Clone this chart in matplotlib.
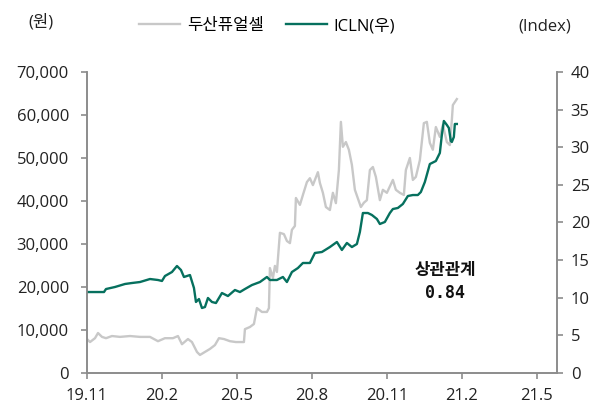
import matplotlib
matplotlib.use("Agg")
import matplotlib.pyplot as plt

plt.rcParams['font.family'] = ['Open Sans', 'Noto Sans CJK KR', 'DejaVu Sans']

# x positions: months since 2019-11
tick_pos = [0, 3, 6, 9, 12, 15, 18]
tick_labels = ['19.11', '20.2', '20.5', '20.8', '20.11', '21.2', '21.5']

doosan_x = [0.00, 0.12, 0.32, 0.44, 0.60, 0.76, 1.00, 1.32, 1.72, 2.12, 2.52, 2.84, 3.12, 3.44, 3.64,
            3.80, 4.04, 4.20, 4.40, 4.52, 4.72, 4.92, 5.12, 5.28, 5.48, 5.72, 5.96, 6.28, 6.32, 6.52,
            6.68, 6.80, 7.00, 7.20, 7.28, 7.32, 7.44, 7.52, 7.60, 7.72, 7.88, 8.00, 8.12, 8.20, 8.32,
            8.36, 8.52, 8.64, 8.80, 8.92, 9.04, 9.24, 9.32, 9.44, 9.56, 9.72, 9.84, 9.96, 10.08, 10.16,
            10.24, 10.36, 10.48, 10.60, 10.72, 10.84, 10.96, 11.08, 11.20, 11.32, 11.44, 11.56, 11.72,
            11.84, 12.00, 12.24, 12.36, 12.52, 12.68, 12.76, 12.92, 13.04, 13.16, 13.32, 13.48, 13.60,
            13.72, 13.84, 13.96, 14.12, 14.24, 14.40, 14.52, 14.60, 14.64, 14.80]
doosan_y = [7900, 7200, 8100, 9300, 8400, 8100, 8600, 8400, 8600, 8400, 8400, 7400, 8100, 8100, 8600,
            6700, 7900, 7200, 4900, 4200, 4900, 5600, 6500, 8100, 7900, 7400, 7200, 7200, 10200, 10700,
            11400, 15100, 14200, 14200, 15100, 24400, 22100, 24900, 23500, 32600, 32300, 30700, 30200, 33300, 34200,
            40700, 39100, 41400, 44400, 45300, 43700, 46700, 44200, 41900, 38600, 37900, 41900, 39500, 47200, 58400,
            52600, 53700, 51900, 48400, 42600, 40600, 38600, 39600, 40200, 47200, 47900, 45600, 40200,
            42600, 41900, 44900, 42600, 41900, 41400, 47200, 50000, 44900, 45600, 49500, 58100, 58400,
            53500, 51900, 57200, 54900, 57700, 53700, 53000, 58800, 62300, 63700]

icln_x = [0.00, 0.68, 0.76, 1.12, 1.52, 1.80, 2.12, 2.52, 2.84, 3.00, 3.12, 3.40, 3.60, 3.76, 3.88,
          4.12, 4.28, 4.36, 4.48, 4.60, 4.72, 4.84, 5.00, 5.16, 5.40, 5.64, 5.92, 6.12, 6.32, 6.60,
          6.92, 7.20, 7.32, 7.60, 7.84, 8.00, 8.20, 8.44, 8.64, 8.92, 9.12, 9.40, 9.72, 10.00, 10.20,
          10.40, 10.60, 10.80, 10.92, 11.04, 11.24, 11.40, 11.60, 11.72, 11.92, 12.12, 12.24, 12.44,
          12.64, 12.84, 13.04, 13.24, 13.36, 13.52, 13.72, 13.96, 14.12, 14.20, 14.28, 14.40, 14.48,
          14.56, 14.60, 14.68, 14.72, 14.80]
icln_y = [10.76, 10.76, 11.16, 11.43, 11.83, 11.96, 12.09, 12.49, 12.36, 12.23, 12.89, 13.42, 14.22, 13.69, 12.76,
          13.02, 11.30, 9.44, 9.83, 8.64, 8.77, 9.97, 9.44, 9.30, 10.63, 10.23, 11.03, 10.76, 11.16, 11.69,
          12.09, 12.76, 12.36, 12.36, 12.76, 12.09, 13.42, 13.95, 14.62, 14.62, 15.95, 16.08, 16.74, 17.41, 16.35,
          17.28, 16.74, 17.14, 18.74, 21.26, 21.26, 21.00, 20.47, 19.80, 20.07, 21.26, 21.79, 21.93,
          22.46, 23.52, 23.65, 23.65, 24.05, 25.38, 27.77, 28.17, 29.24, 31.63, 33.49, 32.96, 32.56,
          30.83, 30.70, 31.36, 33.09, 33.09]

GRAY = '#c8c8c8'
GREEN = '#06705e'
SPINE = '#8c8c8c'
TXT = '#222222'

fig = plt.figure(figsize=(6.0, 4.03), dpi=100)
ax = fig.add_axes([0.145, 0.0744, 0.783, 0.747])
ax2 = ax.twinx()

l1, = ax.plot(doosan_x, doosan_y, color=GRAY, lw=1.7, label='두산퓨얼셀')
l2, = ax2.plot(icln_x, icln_y, color=GREEN, lw=1.7, label='ICLN(우)')

ax.set_xlim(0, 18.8)
ax.set_ylim(0, 70000)
ax2.set_ylim(0, 40)
ax.set_yticks(range(0, 70001, 10000))
ax.set_yticklabels([f'{v:,}' for v in range(0, 70001, 10000)])
ax2.set_yticks(range(0, 41, 5))
ax.set_xticks(tick_pos)
ax.set_xticklabels(tick_labels)

for a in (ax, ax2):
    a.spines['top'].set_visible(False)
    for s in ('left', 'right', 'bottom'):
        a.spines[s].set_color(SPINE)
        a.spines[s].set_linewidth(1.2)
    a.tick_params(colors=SPINE, labelcolor=TXT, labelsize=12, length=4, width=1.2, direction='out')
ax.tick_params(axis='x', pad=7)
ax.tick_params(axis='y', pad=9)
ax2.tick_params(axis='y', pad=6)

fig.text(0.068, 0.945, '(원)', fontsize=12, color=TXT, ha='center', va='center')
fig.text(0.908, 0.935, '(Index)', fontsize=12, color=TXT, ha='center', va='center')

fig.legend(handles=[l1, l2], loc='center', bbox_to_anchor=(0.445, 0.935), ncol=2, frameon=False,
           fontsize=12, handlelength=2.5, columnspacing=1.3, handletextpad=0.4)

ax2.text(14.32, 13.7, '상관관계', fontsize=12, fontweight='bold', ha='center', va='center', color='#111111')
ax2.text(14.32, 10.6, '0.84', fontsize=12, fontweight='bold', ha='center', va='center', color='#111111',
         family=['DejaVu Sans Mono', 'DejaVu Sans'])

fig.savefig('out.png', dpi=100)
